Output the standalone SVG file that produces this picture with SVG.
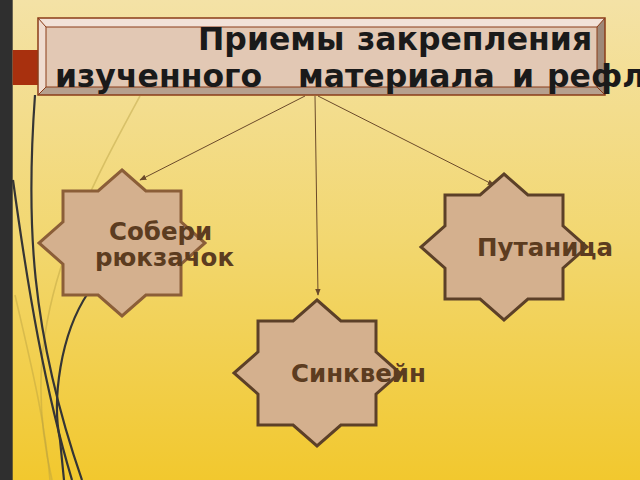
<svg xmlns="http://www.w3.org/2000/svg" xmlns:xlink="http://www.w3.org/1999/xlink" width="640" height="480" viewBox="0 0 640 480">
<defs>
<linearGradient id="bg" x1="0" y1="0" x2="0" y2="1">
<stop offset="0" stop-color="#f4e2a6"/>
<stop offset="0.5" stop-color="#f2d770"/>
<stop offset="1" stop-color="#f2c82e"/>
</linearGradient>
<polygon id="star" points="0,-73 23.9,-52 59,-52 59,-21.1 83,0 59,21.1 59,52 23.9,52 0,73 -23.9,52 -59,52 -59,21.1 -83,0 -59,-21.1 -59,-52 -23.9,-52"/>
<marker id="arr" viewBox="0 0 10 10" refX="9" refY="5" markerWidth="7" markerHeight="7" orient="auto" markerUnits="userSpaceOnUse">
<path d="M0,1 L10,5 L0,9 Z" fill="#6b4a2a"/>
</marker>
<style>
.title{font-family:"DejaVu Sans",sans-serif;font-weight:bold;font-size:31.5px;fill:#1a1a1a}
.lbl{font-family:"DejaVu Sans",sans-serif;font-weight:bold;font-size:24.5px;fill:#5c3c20}
.star{fill:#d4b08e;stroke-width:3;stroke-linejoin:miter}
.conn{stroke:#6b4a2a;stroke-width:1;fill:none}
.dk{fill:none;stroke:#353535;stroke-width:2.2}
.lt{fill:none;stroke:#b8a040;stroke-width:1.6;opacity:0.45}
</style>
</defs>
<rect x="0" y="0" width="640" height="480" fill="url(#bg)"/>
<g id="decor">
<path class="lt" d="M140,96 C100,170 50,260 42,360 C38,410 45,450 52,480"/>
<path class="lt" d="M15,295 C30,360 45,420 50,480"/>
<path class="dk" d="M35,95 C26,220 30,330 82,480"/>
<path class="dk" d="M13,180 C28,290 45,390 72,480"/>
<path class="dk" d="M88,293 C60,335 52,400 60,440 C62,460 63,470 64,480"/>
<rect x="0" y="0" width="12.7" height="480" fill="#2f2f2f"/>
<rect x="12.7" y="50" width="26" height="35" fill="#a8300e"/>
</g>
<g id="title">
<rect x="38" y="18" width="567" height="77" fill="#e2c8b4"/>
<polygon points="38,18 605,18 597,27 46,27" fill="#f2e2d8"/>
<polygon points="38,18 46,27 46,87 38,95" fill="#efdcd0"/>
<polygon points="38,95 46,87 597,87 605,95" fill="#b6a08e"/>
<polygon points="605,18 605,95 597,87 597,27" fill="#9e8878"/>
<rect x="38" y="18" width="567" height="77" fill="none" stroke="#8a3c18" stroke-width="1.5"/>
<rect x="46" y="27" width="551" height="60" fill="none" stroke="#8a3c18" stroke-width="1"/>
<line x1="38" y1="18" x2="46" y2="27" stroke="#8a3c18" stroke-width="1"/>
<line x1="605" y1="18" x2="597" y2="27" stroke="#8a3c18" stroke-width="1"/>
<line x1="38" y1="95" x2="46" y2="87" stroke="#8a3c18" stroke-width="1"/>
<line x1="605" y1="95" x2="597" y2="87" stroke="#8a3c18" stroke-width="1"/>
<text class="title" y="50"><tspan x="198">Приемы</tspan><tspan x="357">закрепления</tspan></text>
<text class="title" y="87"><tspan x="55">изученного</tspan><tspan x="298">материала</tspan><tspan x="512">и</tspan><tspan x="547">рефл</tspan></text>
</g>
<g id="connectors">
<line class="conn" x1="305" y1="96" x2="140" y2="180" marker-end="url(#arr)"/>
<line class="conn" x1="315" y1="96" x2="318" y2="295" marker-end="url(#arr)"/>
<line class="conn" x1="318" y1="96" x2="494" y2="185" marker-end="url(#arr)"/>
</g>
<g id="node-sobери">
<use xlink:href="#star" href="#star" transform="translate(122,243)" class="star" stroke="#8b5e38"/>
<text class="lbl"><tspan x="109" y="240">Собери</tspan><tspan x="95" y="266">рюкзачок</tspan></text>
</g>
<g id="node-putanitsa">
<use xlink:href="#star" href="#star" transform="translate(504,247)" class="star" stroke="#5c4028"/>
<text class="lbl" x="477" y="256">Путаница</text>
</g>
<g id="node-sinkvein">
<use xlink:href="#star" href="#star" transform="translate(317,373)" class="star" stroke="#5c4028"/>
<text class="lbl" x="291" y="382">Синквейн</text>
</g>
</svg>
